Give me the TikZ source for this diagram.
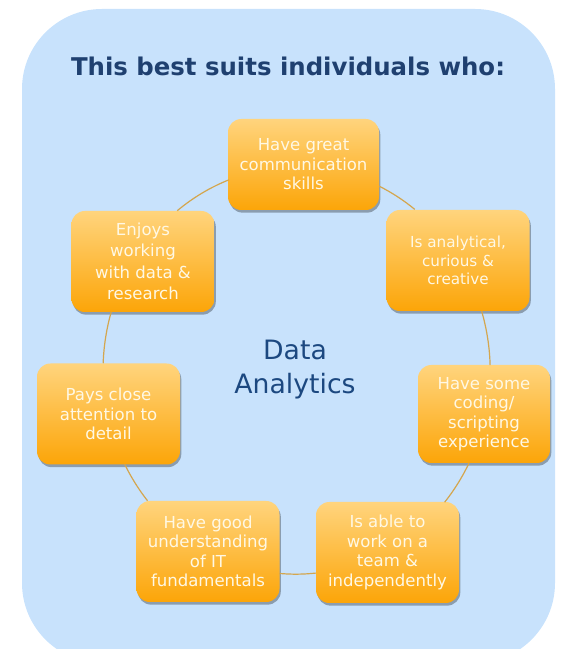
\documentclass[tikz,border=0pt]{standalone}
\usepackage{fontspec}
\setmainfont{DejaVu Sans}
\usetikzlibrary{shadows}
\definecolor{panel}{RGB}{200,226,252}
\definecolor{heading}{RGB}{31,64,112}
\definecolor{hubcol}{RGB}{28,72,128}
\definecolor{ringcol}{RGB}{212,166,78}
\definecolor{boxtop}{RGB}{255,212,125}
\definecolor{boxbot}{RGB}{252,165,8}
\definecolor{boxtxt}{RGB}{255,248,228}
\tikzset{
  skill/.style = { rounded corners=10pt, top color=boxtop, bottom color=boxbot,
    text=boxtxt, align=center, inner sep=2pt,
    minimum width=107.25pt, minimum height=75.75pt,
    font=\fontsize{12.4}{14.6}\selectfont,
    drop shadow={shadow xshift=1pt, shadow yshift=-2pt, fill=black, opacity=0.3} },
  ring/.style  = { draw=ringcol, line width=0.9pt, x radius=144.75pt, y radius=153pt },
  title/.style = { text=heading, font=\fontsize{18.3}{22}\selectfont\bfseries },
  hub/.style   = { text=hubcol, align=center, font=\fontsize{20}{25.5}\selectfont }
}

\begin{document}
\begin{tikzpicture}[x=0.75pt,y=0.75pt]
  \useasboundingbox (0,0) rectangle (560,649);
  \clip (0,0) rectangle (560,649);
  % light blue panel, runs off the bottom edge
  \fill[panel, rounded corners=60pt] (22,-14) rectangle (555,640);
  \node[title] (head) at (288,583) {This best suits individuals who:};

  \node[hub] (core) at (295,279) {Data\\Analytics};

  % seven boxes round the ring, clockwise from the top
  \node[skill, minimum width=113.25pt, minimum height=68.25pt] (s1) at (303.5,484.5) {Have great\\communication\\skills};
  \node[skill, font=\fontsize{11.4}{13.8}\selectfont] (s2) at (458,388.5) {Is analytical,\\curious \&\\creative};
  \node[skill, minimum width=99pt, minimum height=73.5pt] (s3) at (484,235) {Have some\\coding/\\scripting\\experience};
  \node[skill] (s4) at (387.5,96.5) {Is able to\\work on a\\team \&\\independently};
  \node[skill] (s5) at (208,97.5) {Have good\\understanding\\of IT\\fundamentals};
  \node[skill] (s6) at (108.5,235) {Pays close\\attention to\\detail};
  \node[skill, font=\fontsize{12.4}{16}\selectfont] (s7) at (143,387.5) {Enjoys\\working\\with data \&\\research};

  % ring pieces between neighbours
  \draw[ring] (s1.-16.46) arc[start angle=64.53, end angle=52.11];
  \draw[ring] (s2.-65.98) arc[start angle=17.10, end angle=1.69];
  \draw[ring] (s3.-107.77) arc[start angle=-26.81, end angle=-39.95];
  \draw[ring] (s4.196.66) arc[start angle=-84.05, end angle=-94.90];
  \draw[ring] (s5.140.24) arc[start angle=-140.41, end angle=-152.72];
  \draw[ring] (s6.96.10) arc[start angle=177.89, end angle=163.19];
  \draw[ring] (s7.56.60) arc[start angle=128.34, end angle=110.63];
\end{tikzpicture}
\end{document}
